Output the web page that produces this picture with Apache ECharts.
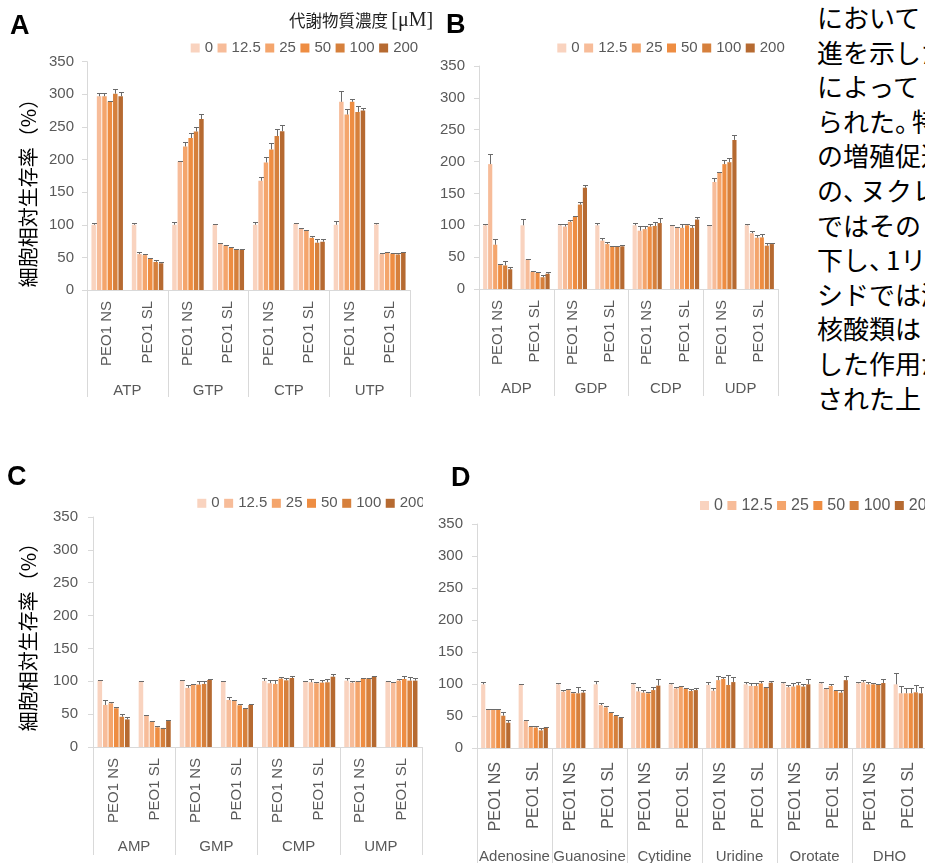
<!DOCTYPE html>
<html>
<head>
<meta charset="utf-8">
<script src="https://cdn.jsdelivr.net/npm/echarts@6/dist/echarts.min.js"></script>
<style>
  html, body { margin: 0; padding: 0; background: #fff; width: 925px; height: 863px; overflow: hidden; }
  .panel { position: absolute; left: 0; top: 0; width: 1000px; height: 863px; }
  #note { position: absolute; left: 817px; top: 0px; font-family: "Noto Sans CJK JP", sans-serif;
          font-size: 26px; line-height: 34.6px; color: #000; white-space: nowrap; }
  #note .p { letter-spacing: -0.35em; }
</style>
</head>
<body>
<div id="note">において<br>進を示したが<br>によって<br>られた<span class="p">。</span>特に<br>の増殖促進<br>の<span class="p">、</span>ヌクレオ<br>ではその<br>下し<span class="p">、</span>1リボ<br>シドでは減<br>核酸類は<br>した作用が<br>された上</div>
<div id="pA" class="panel" style="clip-path: inset(0 560px 423px 0)"></div>
<div id="pB" class="panel" style="clip-path: inset(0 183px 423px 440px)"></div>
<div id="pC" class="panel" style="clip-path: inset(440px 577px 0 0)"></div>
<div id="pD" class="panel" style="clip-path: inset(440px 0 0 430px)"></div>
<script>
// ---- shared labels ----
const concentrations = ['0', '12.5', '25', '50', '100', '200'];
const cells = ['PEO1 NS', 'PEO1 SL'];

// ---- A: triphosphates (rows: group x cell line, columns: concentration) ----
const groupsA = ['ATP', 'GTP', 'CTP', 'UTP'];
const meanA = [
  [100, 297, 297, 289, 301, 297],
  [100, 55, 53.5, 48, 43, 41],
  [100, 197, 220, 233, 243, 262],
  [100, 71, 68.5, 65.5, 62, 62],
  [100, 167.5, 195.5, 215.5, 236, 243.5],
  [101.5, 93.5, 90.5, 80, 72.5, 74],
  [100, 288.5, 269, 288.5, 273, 275],
  [100.5, 55, 57.5, 56, 54.5, 57.5]
];
const errA = [
  [2.5, 4.5, 4.5, 1, 7, 6.5],
  [2.5, 2.5, 1, 1.5, 2.5, 1.5],
  [3.5, 1.5, 6.5, 8, 6.5, 8.5],
  [1, 1, 1, 1, 1, 1],
  [3.5, 5, 8, 10.5, 11, 9.5],
  [0.5, 1, 1.5, 3.5, 5, 3.5],
  [6.5, 17, 8.5, 4.5, 9, 3.5],
  [2.5, 1.5, 1, 1, 1.5, 1.5]
];

// ---- B: diphosphates ----
const groupsB = ['ADP', 'GDP', 'CDP', 'UDP'];
const meanB = [
  [100, 196, 69.5, 37.5, 37, 31],
  [100, 46.5, 27, 25.5, 18.5, 24],
  [100, 98, 105.5, 113, 132.5, 159],
  [100, 76, 70.5, 66.5, 66.5, 67],
  [100, 91.5, 94, 98, 99, 103.5],
  [100, 96, 96, 100, 96, 109],
  [100, 168, 182.5, 196, 199, 234],
  [100, 87.5, 80.5, 81, 68, 70.5]
];
const errB = [
  [2.5, 16.5, 9.5, 1, 7.5, 3.5],
  [9.5, 1, 0.5, 1.5, 3, 2],
  [2, 4.5, 2.5, 1, 3.5, 5],
  [4, 3.5, 3, 0.5, 0.5, 2],
  [4, 7.5, 5, 4, 6, 8.5],
  [0.5, 1, 6, 1.5, 4.5, 4],
  [0.5, 7, 1.5, 6.5, 6.5, 8],
  [2, 3.5, 4, 5, 3.5, 1]
];

// ---- C: monophosphates ----
const groupsC = ['AMP', 'GMP', 'CMP', 'UMP'];
const meanC = [
  [101, 64, 66.5, 59, 46, 42],
  [100, 48, 39, 30, 29, 39.5],
  [101, 90, 94.5, 95, 96, 102],
  [100, 71.5, 70, 63.5, 58, 64],
  [100.5, 97, 96, 104, 101.5, 105],
  [100, 98.5, 97, 98, 98.5, 107],
  [101, 98, 100, 103.5, 104.5, 107],
  [100, 98, 101, 103.5, 101, 101]
];
const errC = [
  [1, 7, 1.5, 1.5, 4, 4],
  [1, 1, 1, 1.5, 0.5, 2],
  [1, 5, 1, 5, 4.5, 1],
  [1, 5, 2, 2, 1, 2],
  [4.5, 5, 6, 3, 4, 3.5],
  [0.5, 4.5, 2, 4, 5.5, 3.5],
  [3.5, 2, 1, 1.5, 1, 1],
  [0.5, 1.5, 2, 4, 5, 4]
];

// ---- D: nucleosides and pyrimidine precursors ----
const groupsD = ['Adenosine', 'Guanosine', 'Cytidine', 'Uridine', 'Orotate', 'DHO'];
const meanD = [
  [99.5, 59.5, 59.5, 60.5, 50.5, 39.5],
  [99.5, 42, 33, 32, 27.5, 32],
  [99.5, 88, 90.5, 85.5, 85.5, 86.5],
  [99.5, 67, 63.5, 55, 50, 48],
  [99.5, 88.5, 86.5, 85.5, 90.5, 97.5],
  [99.5, 93, 96, 93, 89, 90.5],
  [98.5, 89.5, 106, 108, 98.5, 103],
  [99.5, 97, 97, 101, 95, 102],
  [101, 95, 96, 98, 96, 99.5],
  [101, 92, 97, 89.5, 86.5, 106],
  [101, 102.5, 99.5, 99.5, 100, 101.5],
  [99.5, 85.5, 85.5, 85.5, 87, 85.5]
];
const errD = [
  [3.5, 1, 1, 1, 5, 3.5],
  [1, 1, 2, 3, 3, 1.5],
  [1.5, 2.5, 2, 2.5, 10, 3.5],
  [4.5, 3, 2, 1.5, 1, 1],
  [1.5, 7, 3.5, 2.5, 5.5, 10],
  [1.5, 3, 1, 1, 3, 2.5],
  [4.5, 3.5, 6, 3.5, 15.5, 8],
  [4, 4, 5, 4, 1, 2],
  [2, 3, 6, 5.5, 3.5, 8],
  [2, 1, 3.5, 1, 4, 6],
  [2, 3, 4, 2.5, 0.5, 6],
  [17, 11.5, 8, 8, 11.5, 9.5]
];

// ---- styling ----
const palette = ['#F9D3BF', '#F7BC99', '#F4A56C', '#EE8D42', '#D6803C', '#B66A31'];
const FONT = '"Liberation Sans", Arial, sans-serif';
const CJK = '"Noto Sans CJK JP", sans-serif';
const TXT = '#595959';
const AXIS = '#D9D9D9';
const CAT_GAP = 0.22, BAR_GAP = 0.2, N = concentrations.length;

// error bar (upper whisker with cap) placed over the matching bar
function errorBar(params, api) {
  const ci = api.value(0), v = api.value(1), e = api.value(2), si = api.value(3);
  const band = api.size([1, 0])[0];
  const span = band * (1 - CAT_GAP);
  const w = span / (N + (N - 1) * BAR_GAP);
  const base = api.coord([ci, v]);
  const top = api.coord([ci, v + e]);
  const x = Math.round(base[0] - span / 2 + si * w * (1 + BAR_GAP) + w / 2) + 0.5;
  const y1 = Math.round(top[1]) + 0.5;
  const style = { stroke: '#6A6A6A', lineWidth: 1 };
  return {
    type: 'group',
    children: [
      { type: 'line', shape: { x1: x, y1: base[1], x2: x, y2: y1 }, style },
      { type: 'line', shape: { x1: x - 2.5, y1: y1, x2: x + 2.5, y2: y1 }, style }
    ]
  };
}

function makeOption(p) {
  const cats = [];
  p.groups.forEach(g => cells.forEach(c => cats.push(g + '|' + c)));
  const bars = concentrations.map((name, si) => ({
    type: 'bar', name,
    data: p.mean.map(row => row[si]),
    barGap: (BAR_GAP * 100) + '%',
    barCategoryGap: (CAT_GAP * 100) + '%',
    itemStyle: { color: palette[si] },
    silent: true
  }));
  const errs = [];
  p.mean.forEach((row, ci) => row.forEach((v, si) => errs.push([ci, v, p.err[ci][si], si])));

  const graphic = [{
    type: 'text', x: p.letter[0], y: p.letter[1],
    style: { text: p.letter[2], font: 'bold 27px ' + FONT, fill: '#000', verticalAlign: 'top' }
  }];
  if (p.yName) {
    graphic.push({
      type: 'text', x: p.yName[0], y: p.yName[1], rotation: Math.PI / 2,
      style: { text: '細胞相対生存率（%）', font: '20px ' + CJK, fill: '#000', align: 'center', verticalAlign: 'middle' }
    });
  }
  if (p.title) {
    graphic.push({
      type: 'text', x: p.title[0], y: p.title[1],
      style: {
        text: '{a|代謝物質濃度} {b|[μM]}', verticalAlign: 'middle',
        rich: {
          a: { fontFamily: CJK, fontSize: 16.5, fill: '#222' },
          b: { fontFamily: '"Liberation Serif", serif', fontSize: 20, fill: '#222' }
        }
      }
    });
  }

  return {
    animation: false,
    grid: { left: p.grid[0], top: p.grid[1], width: p.grid[2], height: p.grid[3], containLabel: false, outerBoundsMode: 'none' },
    legend: {
      left: p.legend[0], top: p.legend[1], padding: 0, itemGap: 4.5,
      itemWidth: 9, itemHeight: 9, icon: 'rect', selectedMode: false,
      data: concentrations,
      textStyle: { fontSize: p.legendSize, color: TXT, fontFamily: FONT, lineHeight: 16 }
    },
    xAxis: [
      {
        type: 'category', data: cats,
        axisLine: { lineStyle: { color: AXIS, width: 1 } },
        axisTick: { show: false },
        axisLabel: {
          interval: 0, rotate: 90, margin: p.catMargin, fontSize: p.catSize,
          color: TXT, fontFamily: FONT, formatter: v => v.split('|')[1]
        }
      },
      {
        type: 'category', data: p.groups, position: 'bottom',
        axisLine: { show: false },
        axisTick: { show: true, interval: 0, length: p.tickLen, lineStyle: { color: AXIS } },
        axisLabel: { interval: 0, margin: p.groupMargin, fontSize: p.groupSize, color: TXT, fontFamily: FONT }
      }
    ],
    yAxis: {
      type: 'value', min: 0, max: 350, interval: 50,
      axisLine: { show: true, lineStyle: { color: AXIS } },
      axisTick: { show: true, length: 5, lineStyle: { color: AXIS } },
      splitLine: { show: false },
      axisLabel: { margin: p.yMargin, fontSize: p.ySize, color: TXT, fontFamily: FONT }
    },
    series: bars.concat([{
      type: 'custom', renderItem: errorBar, data: errs,
      encode: { x: 0, y: 1 }, z: 10, silent: true, clip: false
    }]),
    graphic
  };
}

const panels = [
  { el: 'pA', groups: groupsA, mean: meanA, err: errA,
    letter: [10, 13, 'A'], yName: [28, 188], title: [289, 21],
    grid: [87, 61.7, 323, 228.3], legend: [190.7, 40], legendSize: 15,
    catMargin: 11, catSize: 15, groupMargin: 93, groupSize: 15, tickLen: 107, yMargin: 13, ySize: 15 },
  { el: 'pB', groups: groupsB, mean: meanB, err: errB,
    letter: [446, 12, 'B'],
    grid: [479, 66, 299, 223], legend: [557.3, 40], legendSize: 15,
    catMargin: 11, catSize: 15, groupMargin: 92, groupSize: 15, tickLen: 107, yMargin: 14, ySize: 15 },
  { el: 'pC', groups: groupsC, mean: meanC, err: errC,
    letter: [7, 464, 'C'], yName: [28, 632],
    grid: [93, 517, 329, 230], legend: [197.3, 495.3], legendSize: 15,
    catMargin: 11, catSize: 15, groupMargin: 92, groupSize: 15, tickLen: 108, yMargin: 15, ySize: 15 },
  { el: 'pD', groups: groupsD, mean: meanD, err: errD,
    letter: [451, 465, 'D'],
    grid: [477, 524, 450, 224], legend: [700, 497.5], legendSize: 16,
    catMargin: 14, catSize: 16, groupMargin: 101, groupSize: 15, tickLen: 125, yMargin: 14, ySize: 15 }
];

panels.forEach(p => {
  const chart = echarts.init(document.getElementById(p.el), null, { renderer: 'canvas' });
  chart.setOption(makeOption(p));
});
</script>
</body>
</html>
